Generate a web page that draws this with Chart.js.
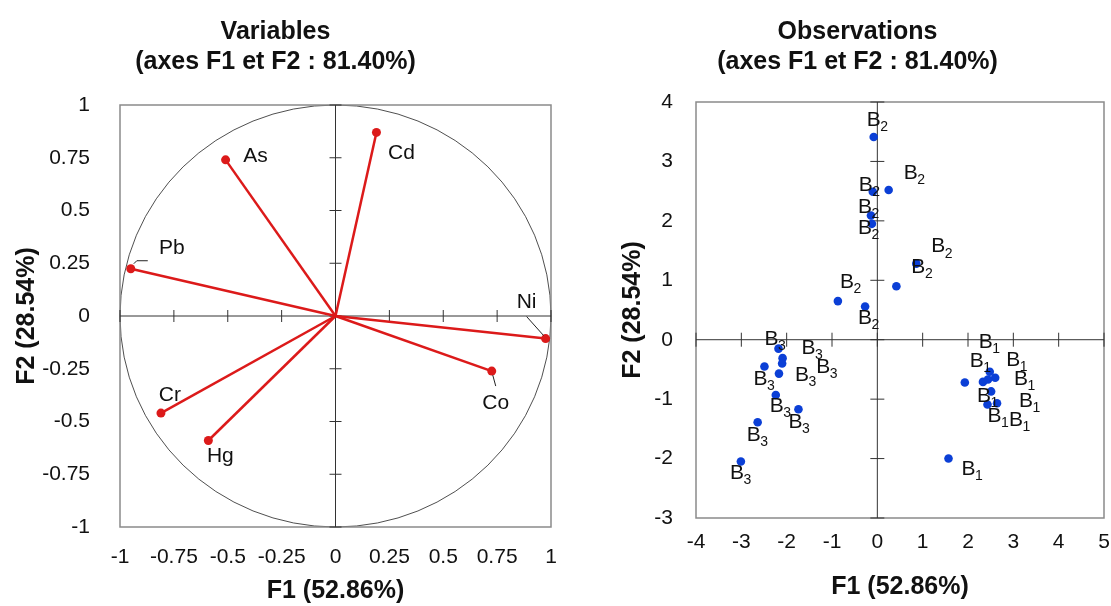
<!DOCTYPE html>
<html>
<head>
    <meta charset="UTF-8">
    <title>ACP F1 x F2</title>
    <style>
        body { margin: 0; background: #fff; }
        canvas { position: absolute; top: 0; }
        #varChart { left: 0; }
        #obsChart { left: 611px; }
    </style>
</head>
<body>
<script src="https://cdn.jsdelivr.net/npm/chart.js@4/dist/chart.umd.min.js"></script>
<canvas id="varChart" width="567" height="606"></canvas>
<canvas id="obsChart" width="500" height="606"></canvas>

<script type="text/javascript">
// variables (correlation circle)
var varNames = ['As', 'Cd', 'Pb', 'Ni', 'Co', 'Cr', 'Hg'];
var varF1 = [-0.51, 0.19, -0.95, 0.975, 0.725, -0.81, -0.59];
var varF2 = [0.74, 0.87, 0.224, -0.107, -0.261, -0.46, -0.59];

// observations, by group
var b1F1 = [1.93, 2.48, 2.60, 2.33, 2.44, 2.51, 2.43, 2.64, 1.57];
var b1F2 = [-0.72, -0.54, -0.64, -0.71, -0.67, -0.87, -1.09, -1.07, -2.00];
var b2F1 = [-0.08, -0.10, 0.25, -0.14, -0.12, 0.86, 0.42, -0.87, -0.27];
var b2F2 = [3.41, 2.49, 2.52, 2.09, 1.95, 1.28, 0.90, 0.65, 0.56];
var b3F1 = [-2.18, -2.09, -2.10, -2.49, -2.17, -2.24, -1.74, -2.64, -3.01];
var b3F2 = [-0.15, -0.31, -0.40, -0.45, -0.57, -0.93, -1.17, -1.39, -2.05];
var groupSubs = ['1', '2', '3'];

var titleLines = ['(axes F1 et F2 : 81.40%)'];
var f1Title = 'F1 (52.86%)';
var f2Title = 'F2 (28.54%)';

// label placement (pixels from the point)
var varLabelOff = [[30, -4], [25, 21], [41, -21], [-19, -36], [4, 32], [9, -18], [12, 16]];
var varLeaders = [null, null, [[3, -5], [6, -8], [17, -8]], [[-19, -22], [-2, -3]], [[1, 4], [4, 15]], null, null];
var obsLabelOff = [
    [[12, -21], [-4, -30], [18, -18], [1, 14], [33, 0], [35, 10], [7, 12], [19, 17], [20, 11]],
    [[0, -17], [-7, -7], [22, -17], [-6, -8], [-7, 4], [22, -17], [22, -19], [9, -19], [0, 12]],
    [[-7, -9], [26, -10], [41, 4], [-4, 13], [23, 2], [1, 11], [-3, 13], [-4, 13], [-4, 12]]
];

var FONT = "'Liberation Sans', Arial, sans-serif";
var RED = '#dc1a1a';
var BLUE = '#0b3fd6';

Chart.defaults.font.family = FONT;
Chart.defaults.color = '#111';
Chart.defaults.animation = false;

// frame, axes through zero, cross ticks, optional unit circle
var crossAxes = {
    id: 'crossAxes',
    beforeDatasetsDraw: function(chart, args, opts) {
        var ctx = chart.ctx, a = chart.chartArea;
        var xs = chart.scales.x, ys = chart.scales.y;
        var x0 = xs.getPixelForValue(0), y0 = ys.getPixelForValue(0);
        ctx.save();
        if (opts.circle) {
            ctx.strokeStyle = '#222';
            ctx.lineWidth = 0.8;
            ctx.beginPath();
            ctx.ellipse(x0, y0, xs.getPixelForValue(1) - x0, y0 - ys.getPixelForValue(1), 0, 0, Math.PI * 2);
            ctx.stroke();
        }
        ctx.strokeStyle = '#8a8a8a';
        ctx.lineWidth = 1.5;
        ctx.strokeRect(a.left, a.top, a.width, a.height);
        ctx.strokeStyle = '#333';
        ctx.lineWidth = 1;
        ctx.beginPath();
        ctx.moveTo(a.left, y0); ctx.lineTo(a.right, y0);
        ctx.moveTo(x0, a.top); ctx.lineTo(x0, a.bottom);
        xs.ticks.forEach(function(t) {
            var px = xs.getPixelForValue(t.value);
            ctx.moveTo(px, y0 - opts.len); ctx.lineTo(px, y0 + opts.len);
        });
        ys.ticks.forEach(function(t) {
            var py = ys.getPixelForValue(t.value);
            ctx.moveTo(x0 - opts.len, py); ctx.lineTo(x0 + opts.len, py);
        });
        ctx.stroke();
        ctx.restore();
    }
};

var varLabels = {
    id: 'varLabels',
    afterDatasetsDraw: function(chart) {
        var ctx = chart.ctx;
        ctx.save();
        ctx.font = '21px ' + FONT;
        ctx.fillStyle = '#111';
        ctx.textAlign = 'center';
        ctx.textBaseline = 'middle';
        varNames.forEach(function(name, i) {
            var pt = chart.getDatasetMeta(i).data[1];
            ctx.fillText(name, pt.x + varLabelOff[i][0], pt.y + varLabelOff[i][1]);
            if (varLeaders[i]) {
                ctx.strokeStyle = '#222';
                ctx.lineWidth = 1;
                ctx.beginPath();
                varLeaders[i].forEach(function(p, k) {
                    if (k === 0) ctx.moveTo(pt.x + p[0], pt.y + p[1]);
                    else ctx.lineTo(pt.x + p[0], pt.y + p[1]);
                });
                ctx.stroke();
            }
        });
        ctx.restore();
    }
};

var obsLabels = {
    id: 'obsLabels',
    afterDatasetsDraw: function(chart) {
        var ctx = chart.ctx;
        ctx.save();
        ctx.fillStyle = '#111';
        ctx.textBaseline = 'middle';
        chart.data.datasets.forEach(function(ds, d) {
            chart.getDatasetMeta(d).data.forEach(function(pt, i) {
                var cx = pt.x + obsLabelOff[d][i][0], cy = pt.y + obsLabelOff[d][i][1];
                ctx.font = '21px ' + FONT;
                ctx.textAlign = 'center';
                ctx.fillText('B', cx, cy);
                var w = ctx.measureText('B').width;
                ctx.font = '14px ' + FONT;
                ctx.textAlign = 'left';
                ctx.fillText(groupSubs[d], cx + w / 2 - 0.5, cy + 7);
            });
        });
        ctx.restore();
    }
};

function fixBox(w, h) {
    return function(scale) {
        if (w !== null) scale.width = w;
        if (h !== null) scale.height = h;
        scale.paddingLeft = 0; scale.paddingRight = 0;
        scale.paddingTop = 0; scale.paddingBottom = 0;
    };
}

function axis(min, max, step, box, pad, title, titlePad) {
    return {
        type: 'linear',
        min: min, max: max,
        afterFit: box,
        grid: { display: false, drawTicks: false },
        border: { display: false },
        ticks: {
            stepSize: step, autoSkip: false, maxRotation: 0, padding: pad,
            font: { size: 21 },
            callback: function(v) { return String(v); }
        },
        title: {
            display: true, text: title, padding: titlePad,
            font: { size: 25, weight: 'bold', lineHeight: 1.2 }
        }
    };
}

function titleOpts(first, bottomPad) {
    return {
        display: true,
        text: [first].concat(titleLines),
        color: '#111',
        font: { size: 25, weight: 'bold', lineHeight: 1.2 },
        padding: { top: 17, bottom: bottomPad }
    };
}

// left: correlation circle
var varSets = varNames.map(function(name, i) {
    return {
        label: name,
        data: [{ x: 0, y: 0 }, { x: varF1[i], y: varF2[i] }],
        showLine: true,
        borderColor: RED,
        borderWidth: 2.5,
        backgroundColor: RED,
        pointRadius: [0, 4.5],
        pointBorderWidth: 0
    };
});

new Chart(document.getElementById('varChart').getContext('2d'), {
    type: 'scatter',
    data: { datasets: varSets },
    options: {
        responsive: false,
        layout: { padding: { left: 0, right: 16, top: 0, bottom: 0 } },
        plugins: {
            legend: { display: false },
            tooltip: { enabled: false },
            title: titleOpts('Variables', 28),
            crossAxes: { len: 6, circle: true }
        },
        scales: {
            x: axis(-1, 1, 0.25, fixBox(null, 79), 18, f1Title, { top: 0, bottom: 0 }),
            y: axis(-1, 1, 0.25, fixBox(120, null), 30, f2Title, { top: 12, bottom: 0 })
        }
    },
    plugins: [crossAxes, varLabels]
});

// right: observations
function obsSet(name, xs, ys) {
    return {
        label: name,
        data: xs.map(function(v, i) { return { x: v, y: ys[i] }; }),
        backgroundColor: BLUE,
        pointRadius: 4.3,
        pointBorderWidth: 0
    };
}

new Chart(document.getElementById('obsChart').getContext('2d'), {
    type: 'scatter',
    data: {
        datasets: [
            obsSet('B1', b1F1, b1F2),
            obsSet('B2', b2F1, b2F2),
            obsSet('B3', b3F1, b3F2)
        ]
    },
    options: {
        responsive: false,
        layout: { padding: { left: 0, right: 7, top: 0, bottom: 0 } },
        plugins: {
            legend: { display: false },
            tooltip: { enabled: false },
            title: titleOpts('Observations', 25),
            crossAxes: { len: 7, circle: false }
        },
        scales: {
            x: axis(-4, 5, 1, fixBox(null, 88), 12, f1Title, { top: 0, bottom: 4 }),
            y: axis(-3, 4, 1, fixBox(85, null), 23, f2Title, { top: 7, bottom: 0 })
        }
    },
    plugins: [crossAxes, obsLabels]
});
</script>
</body>
</html>
